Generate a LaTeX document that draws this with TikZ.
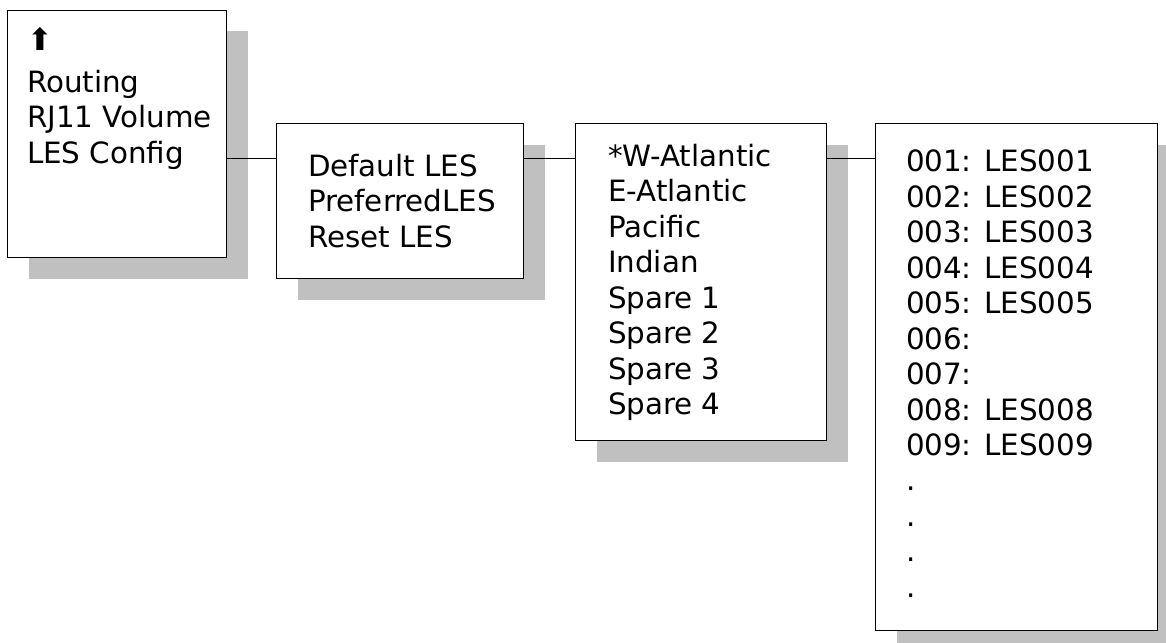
\documentclass[tikz,border=0pt]{standalone}
\usepackage{fontspec}
\setmainfont{DejaVu Sans}
\usepackage{xcolor}
\usetikzlibrary{positioning,shadows}
\definecolor{shadowgray}{HTML}{C0C0C0}
\newcommand{\menufont}{\fontsize{22pt}{26.6pt}\selectfont}
\tikzset{
  menubox/.style={draw=black,line width=0.75pt,fill=white,inner sep=0pt,
    anchor=north west,
    drop shadow={shadow xshift=15.75pt,shadow yshift=-15.75pt,
      fill=shadowgray,opacity=1}},
  menutext/.style={inner sep=0pt,outer sep=0pt,align=left,
    anchor=north west,font=\menufont},
  link/.style={line width=0.75pt,draw=black}
}

\begin{document}
\begin{tikzpicture}
\useasboundingbox (0,0) rectangle (874.5pt,-481.5pt);
% menu boxes
\node[menubox,minimum width=164.25pt,minimum height=185.25pt] (mainmenu) at (5.25pt,-7.5pt) {};
\node[menubox,minimum width=185.25pt,minimum height=116.25pt,
  below right=84.75pt and 36.75pt of mainmenu.north east] (lesmenu) {};
\node[menubox,minimum width=188.25pt,minimum height=237.75pt,
  below right=0pt and 38.25pt of lesmenu.north east] (oceanmenu) {};
\node[menubox,minimum width=211.5pt,minimum height=380.25pt,
  below right=0pt and 36pt of oceanmenu.north east] (lesidmenu) {};
% menu entries
\node[menutext,below right=12.75pt and 15pt of mainmenu.north west] (maintext)
  {{\fontsize{23pt}{23pt}\selectfont ⬆}\\[5pt]Routing\\RJ11 Volume\\LES Config};
\node[menutext,below right=23.25pt and 24pt of lesmenu.north west] (lestext)
  {Default LES\\PreferredLES\\Reset LES};
\node[menutext,below right=15.75pt and 24.75pt of oceanmenu.north west] (oceantext)
  {*W-Atlantic\\E-Atlantic\\Pacific\\Indian\\Spare 1\\Spare 2\\Spare 3\\Spare 4};
\node[menutext,below right=20.25pt and 23.25pt of lesidmenu.north west] (lesidtext)
  {001: LES001\\002: LES002\\003: LES003\\004: LES004\\005: LES005\\006:\\007:\\
   008: LES008\\009: LES009\\.\\.\\.\\.};
% links
\coordinate (wire) at (0,-118.5pt);
\draw[link] (mainmenu.east |- wire) -- (lesmenu.west |- wire);
\draw[link] (lesmenu.east |- wire) -- (oceanmenu.west |- wire);
\draw[link] (oceanmenu.east |- wire) -- (lesidmenu.west |- wire);
\end{tikzpicture}
\end{document}
